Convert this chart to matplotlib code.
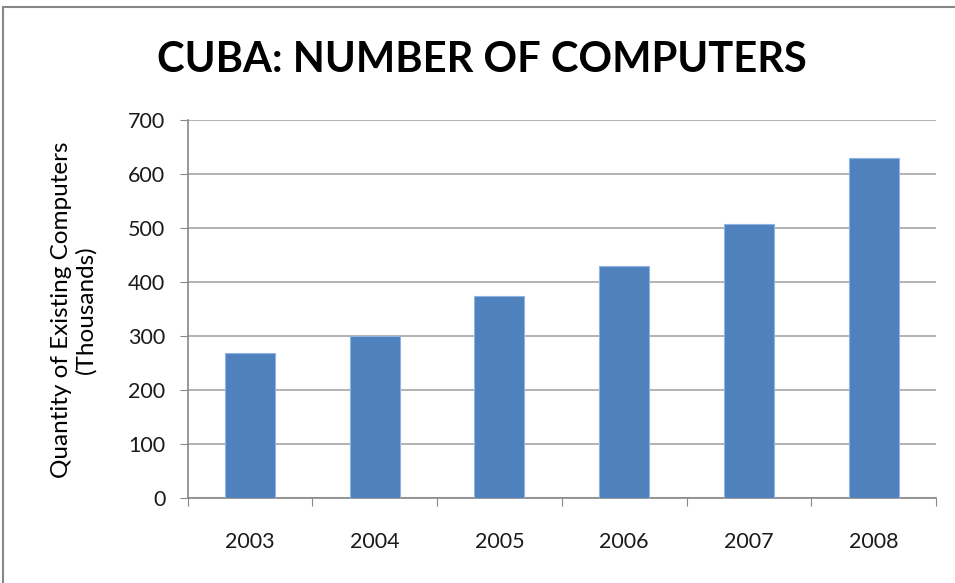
import matplotlib
matplotlib.use('Agg')
import matplotlib.pyplot as plt
from matplotlib.patches import Rectangle

years = ['2003', '2004', '2005', '2006', '2007', '2008']
computers = [268, 300, 375, 430, 508, 630]

plt.rcParams['font.family'] = ['Lato', 'DejaVu Sans']

fig = plt.figure(figsize=(9.55, 5.83), dpi=100)
W, H = 955, 583
ax = fig.add_axes([187.5 / W, 1 - 498.3 / H, (936 - 187.5) / W, (498.3 - 120) / H])

x = range(len(years))
ax.bar(x, computers, width=0.4, color='#4F81BD', edgecolor='#8EB4E3', linewidth=0.8, zorder=3)

ax.set_xlim(-0.5, len(years) - 0.5)
ax.set_ylim(0, 700)
ax.set_yticks(range(0, 701, 100))
ax.set_xticks([i - 0.5 for i in range(len(years) + 1)], minor=False)
ax.set_xticklabels([])
ax.set_xticks(list(x), minor=True)
ax.set_xticklabels(years, minor=True, fontsize=15.5, color='#1a1a1a')
ax.tick_params(axis='x', which='minor', length=0, pad=24)
ax.tick_params(axis='x', which='major', length=6, color='#878787', direction='out')
ax.tick_params(axis='y', length=6, color='#878787', labelsize=15.5, labelcolor='#1a1a1a', pad=10)

ax.grid(axis='y', color='#A6A6A6', linewidth=1.2, zorder=0)
for s in ['top', 'right']:
    ax.spines[s].set_visible(False)
for s in ['left', 'bottom']:
    ax.spines[s].set_color('#878787')
    ax.spines[s].set_linewidth(1.2)

fig.text(74 / W, 1 - 309.5 / H, 'Quantity of Existing Computers\n(Thousands)', rotation=90,
         ha='center', va='center', fontsize=17.5, linespacing=1.15, multialignment='center')

fig.text(482 / W, 1 - 60 / H, 'CUBA: NUMBER OF COMPUTERS', ha='center', va='center',
         fontsize=30, fontweight='bold')

# outer chart frame
fig.patches.append(Rectangle((3 / W, -0.1), 1.2, 1 - 7 / H + 0.1, transform=fig.transFigure,
                             fill=False, edgecolor='#878787', linewidth=1.5))

plt.savefig('out.png', dpi=100)
